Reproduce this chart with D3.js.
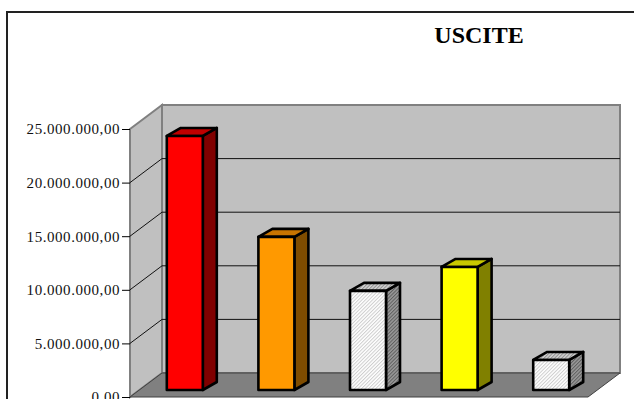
<!DOCTYPE html>
<html>
<head>
<meta charset="utf-8">
<script src="https://cdn.jsdelivr.net/npm/d3@7"></script>
<style>
  html, body { margin: 0; padding: 0; background: #fff; }
  svg { display: block; }
</style>
</head>
<body>
<svg id="chart" width="634" height="399"></svg>
<script>
// Chart data
const title = "USCITE";
const categories = ["Voce 1", "Voce 2", "Voce 3", "Voce 4", "Voce 5"];
const values = [23700000, 14280000, 9250000, 11480000, 2800000];
const tickValues = [0, 5000000, 10000000, 15000000, 20000000, 25000000];

// Face colours for each bar: front, side, top ("hatch" uses patterns)
const frontColors = ["#ff0000", "#ff9900", "hatch", "#ffff00", "hatch"];
const sideColors  = ["#800000", "#7f4c00", "hatchSide", "#808000", "hatchSide"];
const topColors   = ["#c00000", "#c87400", "hatchTop", "#c8c800", "hatchTop"];

const W = 634, H = 399;
const svg = d3.select("#chart");

// Patterns for hatched bars
const defs = svg.append("defs");
function hatch(id, bg, line) {
  const p = defs.append("pattern")
    .attr("id", id).attr("patternUnits", "userSpaceOnUse")
    .attr("width", 2.5).attr("height", 2.5)
    .attr("patternTransform", "rotate(-45)");
  p.append("rect").attr("width", 2.5).attr("height", 2.5).attr("fill", bg);
  p.append("rect").attr("width", 2.5).attr("height", 1).attr("fill", line);
}
hatch("hatch", "#ffffff", "#cdcdcd");
hatch("hatchSide", "#9a9a9a", "#5e5e5e");
hatch("hatchTop", "#d2d2d2", "#8e8e8e");
const fillOf = c => c.startsWith("hatch") ? `url(#${c})` : c;

// Frame of the chart area
svg.append("path")
  .attr("d", `M7,${H} V12 H${W}`)
  .attr("fill", "none").attr("stroke", "#222").attr("stroke-width", 2);

svg.append("text")
  .attr("x", 479).attr("y", 43)
  .attr("text-anchor", "middle")
  .attr("font-family", "Liberation Serif, Times New Roman, serif")
  .attr("font-weight", "bold").attr("font-size", 24)
  .text(title);

// 3D plot geometry: front plane and depth offset
const x0 = 130, x1 = 588;
const dx = 32, dy = -24;
const y = d3.scaleLinear().domain([0, 25000000]).range([397, 129]);
const yMax = y(25000000), yZero = y(0);

const g = svg.append("g");

// Back wall
g.append("polygon")
  .attr("points", [[x0 + dx, yMax + dy], [x1 + dx, yMax + dy], [x1 + dx, yZero + dy], [x0 + dx, yZero + dy]].join(" "))
  .attr("fill", "#c0c0c0").attr("stroke", "#808080").attr("stroke-width", 2);

// Side wall
g.append("polygon")
  .attr("points", [[x0, yMax], [x0 + dx, yMax + dy], [x0 + dx, yZero + dy], [x0, yZero]].join(" "))
  .attr("fill", "#c0c0c0").attr("stroke", "#808080").attr("stroke-width", 2);

// Floor
g.append("polygon")
  .attr("points", [[x0, yZero], [x0 + dx, yZero + dy], [x1 + dx, yZero + dy], [x1, yZero]].join(" "))
  .attr("fill", "#808080").attr("stroke", "#404040").attr("stroke-width", 1);

// Gridlines on back and side walls
const inner = tickValues.filter(t => t > 0 && t < 25000000);
g.selectAll(".grid-back").data(inner).join("line")
  .attr("x1", x0 + dx).attr("x2", x1 + dx)
  .attr("y1", d => y(d) + dy).attr("y2", d => y(d) + dy)
  .attr("stroke", "#111").attr("stroke-width", 1);
g.selectAll(".grid-side").data(inner).join("line")
  .attr("x1", x0).attr("x2", x0 + dx)
  .attr("y1", d => y(d)).attr("y2", d => y(d) + dy)
  .attr("stroke", "#111").attr("stroke-width", 1);

// Value axis
const itLocale = d3.formatLocale({ decimal: ",", thousands: ".", grouping: [3], currency: ["", ""] });
const fmt = itLocale.format(",.2f");
const axis = svg.append("g")
  .attr("transform", `translate(${x0},0)`)
  .call(d3.axisLeft(y).tickValues(tickValues).tickSize(8).tickPadding(2).tickFormat(fmt));
axis.select(".domain").remove();
axis.selectAll(".tick line").attr("stroke", "#000");
axis.selectAll(".tick text")
  .attr("font-family", "Liberation Serif, Times New Roman, serif")
  .attr("font-size", 15).attr("letter-spacing", 0.55).attr("fill", "#111");

// Bars sit partway into the depth of the floor
const bdx = 9, bdy = -7;   // bar plane offset
const sdx = 14, sdy = -8;  // bar's own depth
const xb = d3.scaleBand().domain(categories)
  .range([x0 + bdx, x1 + bdx])
  .paddingInner(0.607).paddingOuter(0.3035);
const yb = v => y(v) + bdy;

const bars = g.selectAll(".bar").data(categories.map((c, i) => ({ c, v: values[i], i })))
  .join("g").attr("class", "bar");

bars.each(function (d) {
  const b = d3.select(this);
  const L = xb(d.c), R = L + xb.bandwidth();
  const T = yb(d.v), B = yb(0);
  const style = s => s.attr("stroke", "#000").attr("stroke-width", 2.6).attr("stroke-linejoin", "round");
  // side face
  b.append("polygon")
    .attr("points", [[R, T], [R + sdx, T + sdy], [R + sdx, B + sdy], [R, B]].join(" "))
    .attr("fill", fillOf(sideColors[d.i])).call(style);
  // top face
  b.append("polygon")
    .attr("points", [[L, T], [L + sdx, T + sdy], [R + sdx, T + sdy], [R, T]].join(" "))
    .attr("fill", fillOf(topColors[d.i])).call(style);
  // front face
  b.append("rect")
    .attr("x", L).attr("y", T).attr("width", R - L).attr("height", B - T)
    .attr("fill", fillOf(frontColors[d.i])).call(style);
});
</script>
</body>
</html>
